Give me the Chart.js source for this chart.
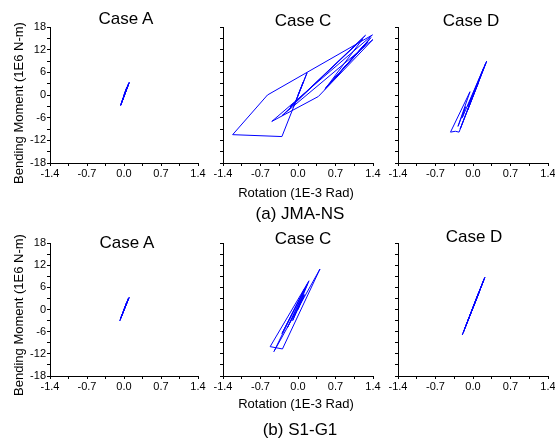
<!DOCTYPE html>
<html><head><meta charset="utf-8">
<script src="https://cdn.jsdelivr.net/npm/chart.js@4.4.1/dist/chart.umd.min.js"></script>
<style>
html,body{margin:0;padding:0;background:#fff;}
#wrap{position:relative;width:555px;height:442px;overflow:hidden;font-family:"Liberation Sans",Arial,sans-serif;color:#000;}
canvas{position:absolute;}
.t{position:absolute;white-space:nowrap;line-height:1;transform:translate(-50%,-50%);}
.v{position:absolute;white-space:nowrap;line-height:1;transform:translate(-50%,-50%) rotate(-90deg);}
</style></head><body><div id="wrap"></div>
<script>
// ---- tick values / labels ----
const xTickValues = [-1.4,-1.05,-0.7,-0.35,0,0.35,0.7,1.05,1.4];
const xTickLabels = ['-1.4','','-0.7','','0.0','','0.7','','1.4'];
const yTickValues = [-18,-15,-12,-9,-6,-3,0,3,6,9,12,15,18];
const yTickLabels = ['-18','','-12','','-6','','0','','6','','12','','18'];

// ---- titles ----
const caseTitles = ['Case A','Case C','Case D'];
const groupTitles = ['(a) JMA-NS','(b) S1-G1'];
const xAxisTitle = 'Rotation (1E-3 Rad)';
const yAxisTitle = 'Bending Moment (1E6 N-m)';

// ---- (a) JMA-NS ----
const jmaA_rot = [0.00, 0.05, -0.03, 0.08, -0.06, 0.10, -0.055, 0.09, -0.065, 0.095, -0.04, 0.06, 0.00];
const jmaA_mom = [0.1, 1.9, -1.4, 2.8, -2.7, 3.4, -2.3, 3.0, -2.8, 3.2, -1.8, 2.2, 0.0];

const jmaC_rot = [0.00, 0.10, -0.08, 0.17, -0.30, -1.22, -0.57, 1.39, -0.49, 0.38, 1.40, -0.30, 1.26, -0.15, 1.21, 0.50, 1.30, 0.55, 1.26, 0.62, 1.36, 0.52, 1.33];
const jmaC_mom = [0.0, 3.5, -3.0, 5.9, -11.0, -10.5, 0.0, 15.9, -7.0, -0.4, 14.7, -5.5, 15.8, -3.2, 14.9, 1.5, 14.0, 2.4, 13.6, 3.4, 15.2, 1.9, 14.6];

const jmaD_rot = [0.00, 0.10, -0.10, 0.255, -0.26, -0.33, -0.42, -0.056, -0.28, -0.14, -0.20, 0.24, -0.24, 0.20, -0.10, 0.02];
const jmaD_mom = [0.0, 3.2, -4.0, 8.96, -9.83, -9.6, -9.83, 0.87, -8.3, -3.1, -6.0, 8.5, -9.0, 7.2, -3.0, 0.5];

// ---- (b) S1-G1 ----
const s1A_rot = [0.00, 0.06, -0.04, 0.09, -0.07, 0.10, -0.08, 0.085, -0.06, 0.05, 0.00];
const s1A_mom = [0.1, 2.2, -1.6, 3.0, -2.6, 3.35, -3.1, 3.1, -2.3, 1.9, -0.2];

const s1C_rot = [0.00, 0.12, -0.10, 0.205, -0.52, -0.29, 0.41, -0.45, 0.13, -0.30, 0.18, -0.20, 0.10, 0.00];
const s1C_mom = [0.0, 4.0, -3.0, 7.77, -10.05, -10.68, 10.95, -11.4, 5.8, -6.5, 7.0, -5.0, 4.0, 0.0];

const s1D_rot = [0.00, 0.12, -0.10, 0.224, -0.20, 0.20, -0.18, 0.21, -0.15, 0.10, 0.00];
const s1D_mom = [0.4, 4.8, -3.2, 8.78, -6.88, 7.9, -6.2, 8.4, -5.0, 4.4, 0.6];

const FONT = '"Liberation Sans", Arial, sans-serif';
const wrap = document.getElementById('wrap');

const panels = [
  {row:0,col:0,x:jmaA_rot,y:jmaA_mom},
  {row:0,col:1,x:jmaC_rot,y:jmaC_mom},
  {row:0,col:2,x:jmaD_rot,y:jmaD_mom},
  {row:1,col:0,x:s1A_rot,y:s1A_mom},
  {row:1,col:1,x:s1C_rot,y:s1C_mom},
  {row:1,col:2,x:s1D_rot,y:s1D_mom}
];
const rows = [{top:27,bottom:163},{top:243,bottom:376}];
const cols = [{left:50,right:198},{left:223,right:373},{left:398,right:548}];
const PADL=36, PADT=10, PADR=12, PADB=22;

panels.forEach(p=>{
  const r=rows[p.row], c=cols[p.col];
  const w=c.right-c.left+PADL+PADR, h=r.bottom-r.top+PADT+PADB;
  const cv=document.createElement('canvas');
  cv.width=w; cv.height=h;
  cv.style.left=(c.left-PADL)+'px'; cv.style.top=(r.top-PADT)+'px';
  cv.style.width=w+'px'; cv.style.height=h+'px';
  wrap.appendChild(cv);
  const showY = p.col===0;
  new Chart(cv,{
    type:'scatter',
    data:{datasets:[{data:p.x.map((v,i)=>({x:v,y:p.y[i]})),showLine:true,borderColor:'#0000ff',borderWidth:1,pointRadius:0,tension:0,fill:false}]},
    options:{
      responsive:false,animation:false,devicePixelRatio:1,
      layout:{padding:{left:0,top:PADT,right:PADR,bottom:0}},
      plugins:{legend:{display:false},tooltip:{enabled:false},title:{display:false}},
      scales:{
        x:{type:'linear',min:-1.4,max:1.4,
          afterBuildTicks:s=>{s.ticks=xTickValues.map(v=>({value:v}));},
          afterFit:s=>{s.height=PADB;},
          ticks:{callback:(v,i)=>xTickLabels[i],font:{size:11,family:FONT},color:'#000',padding:1,maxRotation:0,autoSkip:false},
          grid:{drawOnChartArea:false,drawTicks:true,tickLength:3,color:'#000'},
          border:{color:'#000',width:1}},
        y:{type:'linear',min:-18,max:18,
          afterBuildTicks:s=>{s.ticks=yTickValues.map(v=>({value:v}));},
          afterFit:s=>{s.width=PADL;},
          ticks:{callback:(v,i)=>showY?yTickLabels[i]:'',font:{size:11,family:FONT},color:'#000',padding:1,autoSkip:false},
          grid:{drawOnChartArea:false,drawTicks:true,tickLength:3,color:'#000'},
          border:{color:'#000',width:1}}
      }
    }
  });
});

function addText(txt,cx,cy,size,cls){
  const d=document.createElement('div');
  d.className=cls||'t'; d.textContent=txt;
  d.style.left=cx+'px'; d.style.top=cy+'px'; d.style.fontSize=size+'px';
  wrap.appendChild(d);
}
const caseCenters=[[[126,18],[303,20],[471,20]],[[127,242],[303,238],[474,236]]];
caseCenters.forEach((row)=>row.forEach((pos,ci)=>addText(caseTitles[ci],pos[0],pos[1],17)));
addText(xAxisTitle,296,192,13);
addText(xAxisTitle,296,403,13);
addText(groupTitles[0],300,213,17);
addText(groupTitles[1],300,429,17);
addText(yAxisTitle,18,103,13,'v');
addText(yAxisTitle,18,315,13,'v');
</script></body></html>
